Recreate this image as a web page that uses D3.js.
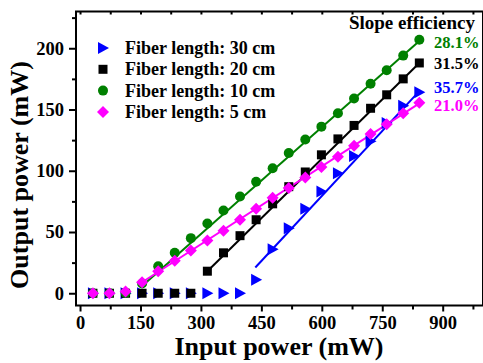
<!DOCTYPE html>
<html>
<head>
<meta charset="utf-8">
<script src="https://cdn.jsdelivr.net/npm/d3@7"></script>
<style>
  html, body { margin: 0; padding: 0; background: #fff; }
  svg { display: block; font-family: 'Liberation Serif', 'Times New Roman', serif; font-weight: bold; }
</style>
</head>
<body>
<div id="chart"></div>
<script>
// input pump power (mW), shared by every series
const inputPower = [32, 73, 113, 154, 194, 235, 275, 316, 356, 397, 437, 478, 518, 559, 599, 640, 680, 721, 761, 802, 842];
// output power (mW) per fiber length
const out30 = [0, 0, 0, 0, 0, 0, 0, 0, 0, 0, 11, 36, 53, 69, 83, 98, 112, 124, 139, 153, 164];
const out20 = [0, 0, 0, 0, 0, 0, 0, 18, 33, 47, 60, 73, 87, 99, 113, 126, 137, 151, 162, 175, 188];
const out10 = [0, 0, 0.5, 8, 22, 33, 45, 57, 67.5, 79, 91, 102, 114.5, 125.5, 136, 147, 159, 171, 182, 194, 207];
const out5 = [0, 0, 1.5, 9, 18, 26.5, 35, 43, 51, 60, 69, 78, 86, 94.5, 103, 111.5, 120.5, 130, 138, 147, 155.5];
// linear fits (start / end points, mW)
const fit30 = [[435, 21], [842, 165]];
const fit20 = [[316, 18], [842, 188]];
const fit10 = [[154, 6], [842, 206]];
const fit5 = [[154, 9], [842, 155]];
const slopes = ['28.1%', '31.5%', '35.7%', '21.0%'];
const legendLabels = ['Fiber length: 30 cm', 'Fiber length: 20 cm', 'Fiber length: 10 cm', 'Fiber length: 5 cm'];
const xTicks = [0, 150, 300, 450, 600, 750, 900];
const yTicks = [0, 50, 100, 150, 200];

const width = 483, height = 363;
const margin = { top: 11.5, right: 0, bottom: 57.5, left: 76 };

const svg = d3.select('#chart').append('svg')
  .attr('width', width)
  .attr('height', height);

const x = d3.scaleLinear().domain([-10, 1000]).range([margin.left, 483]);
const y = d3.scaleLinear().domain([-10, 230]).range([height - margin.bottom, margin.top]);

const series = [
  { values: out30, fit: fit30, color: '#0000ff', shape: 'triangle' },
  { values: out20, fit: fit20, color: '#000000', shape: 'square' },
  { values: out10, fit: fit10, color: '#008000', shape: 'circle' },
  { values: out5, fit: fit5, color: '#ff00ff', shape: 'diamond' }
];

function markerPath(shape) {
  switch (shape) {
    case 'triangle': return 'M-5,-6L6,0L-5,6Z';
    case 'square': return 'M-4.5,-4.5H4.5V4.5H-4.5Z';
    case 'diamond': return 'M0,-6L6,0L0,6L-6,0Z';
    default: return d3.symbol(d3.symbolCircle, Math.PI * 5 * 5)();
  }
}

// axes
const x0 = x.range()[0], x1 = x.range()[1];
const y0 = y.range()[0], y1 = y.range()[1];

const xAxis = d3.axisBottom(x).tickValues(d3.range(0, 1001, 75)).tickSize(6)
  .tickFormat(d => xTicks.includes(d) ? d : '').tickPadding(4);
const gx = svg.append('g').attr('class', 'x-axis')
  .attr('transform', `translate(0, ${y0})`)
  .call(xAxis);
gx.selectAll('.tick').filter(d => !xTicks.includes(d)).select('line').attr('y2', 4);

const yAxis = d3.axisLeft(y).tickValues(d3.range(0, 226, 25)).tickSize(7)
  .tickFormat(d => yTicks.includes(d) ? d : '').tickPadding(5);
const gy = svg.append('g').attr('class', 'y-axis')
  .attr('transform', `translate(${x0}, 0)`)
  .call(yAxis);
gy.selectAll('.tick').filter(d => !yTicks.includes(d)).select('line').attr('x2', -4);

const gt = svg.append('g').attr('class', 'x-axis-top')
  .attr('transform', `translate(0, ${y1})`)
  .call(d3.axisBottom(x).tickValues(d3.range(0, 1001, 75)).tickSize(3).tickFormat(''));

[gx, gy, gt].forEach(g => {
  g.select('.domain').remove();
  g.selectAll('line').attr('stroke', '#000').attr('stroke-width', 2);
  g.selectAll('text').attr('font-size', 18.5).attr('fill', '#000')
    .attr('font-family', "'Liberation Serif', serif").attr('font-weight', 'bold');
});

svg.append('rect')
  .attr('x', x0).attr('y', y1)
  .attr('width', x1 - x0).attr('height', y0 - y1)
  .attr('fill', 'none').attr('stroke', '#000').attr('stroke-width', 2);

// axis titles
svg.append('text')
  .attr('x', 279).attr('y', 355)
  .attr('text-anchor', 'middle').attr('font-size', 26)
  .text('Input power (mW)');
svg.append('text')
  .attr('transform', 'translate(28, 175) rotate(-90)')
  .attr('text-anchor', 'middle').attr('font-size', 26)
  .text('Output power (mW)');

// fit lines + markers
const plot = svg.append('g').attr('class', 'plot');
series.forEach(s => {
  plot.append('path')
    .attr('d', d3.line().x(d => x(d[0])).y(d => y(d[1]))(s.fit))
    .attr('fill', 'none').attr('stroke', s.color).attr('stroke-width', 2);
});
series.forEach(s => {
  plot.append('g').selectAll('path')
    .data(s.values)
    .join('path')
    .attr('transform', (d, i) => `translate(${x(inputPower[i])}, ${y(d)})`)
    .attr('d', markerPath(s.shape))
    .attr('fill', s.color);
});

// legend
const legend = svg.append('g').attr('class', 'legend');
series.forEach((s, i) => {
  const ly = 48 + i * 21.3;
  legend.append('path')
    .attr('transform', `translate(103, ${ly})`)
    .attr('d', markerPath(s.shape))
    .attr('fill', s.color);
  legend.append('text')
    .attr('x', 125).attr('y', ly + 6)
    .attr('font-size', 18)
    .text(legendLabels[i]);
});

// slope efficiency labels
svg.append('text')
  .attr('x', 475).attr('y', 29)
  .attr('text-anchor', 'end').attr('font-size', 19)
  .text('Slope efficiency');
const slopeColors = ['#008000', '#000000', '#0000ff', '#ff00ff'];
const slopeY = [48, 69, 92.5, 110.5];
slopes.forEach((t, i) => {
  svg.append('text')
    .attr('x', 434).attr('y', slopeY[i])
    .attr('font-size', 16.5).attr('fill', slopeColors[i])
    .text(t);
});
</script>
</body>
</html>
